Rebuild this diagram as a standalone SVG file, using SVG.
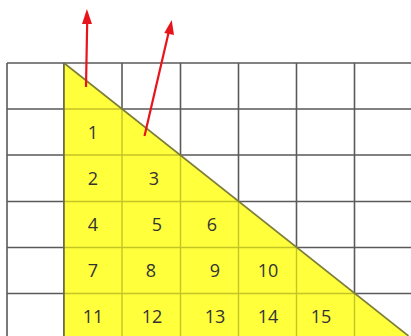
<svg xmlns="http://www.w3.org/2000/svg" width="411" height="336" viewBox="0 0 411 336">
<defs>
<style>
.g{stroke:#5a5a5a;stroke-width:1.6;fill:none}
.y{stroke:#c4c424;stroke-width:1.4;fill:none}
.n{font-family:"Open Sans","Noto Sans",sans-serif;font-size:18px;fill:#333;text-anchor:middle}
.a{stroke:#e8141c;stroke-width:2.2;fill:none}
</style>
<clipPath id="tri"><polygon points="64,63 408.5,336 64,336"/></clipPath>
<marker id="ah" viewBox="0 0 10 14" refX="9" refY="5" markerWidth="14" markerHeight="10" markerUnits="userSpaceOnUse" orient="auto"><path d="M0,0 L14,5 L0,10 Z" fill="#e8141c" transform="scale(0.7143,1)"/></marker>
</defs>
<rect width="411" height="336" fill="#fff"/>
<g id="grid">
<path class="g" d="M7,63V336M64,63V336M122,63V336M180.5,63V336M238.5,63V336M296.5,63V336M354.5,63V336M7,63H411M7,109H411M7,155H411M7,201.5H411M7,247.5H411M7,293.5H411"/>
</g>
<g id="triangle">
<polygon points="64,63 408.5,336 64,336" fill="#ffff3c"/>
<path class="y" clip-path="url(#tri)" d="M122,63V336M180.5,63V336M238.5,63V336M296.5,63V336M354.5,63V336M64,109H411M64,155H411M64,201.5H411M64,247.5H411M64,293.5H411"/>
<line x1="64" y1="63" x2="408.5" y2="336" stroke="#7e7e3a" stroke-width="1.6"/>
<line x1="64" y1="63" x2="64" y2="336" stroke="#6a6a40" stroke-width="1.6"/>
</g>
<g id="labels">
<g id="c1"><text class="n" x="93" y="138.5">1</text></g>
<g id="c2"><text class="n" x="93" y="184.5">2</text></g>
<g id="c3"><text class="n" x="154" y="184.5">3</text></g>
<g id="c4"><text class="n" x="93" y="230.5">4</text></g>
<g id="c5"><text class="n" x="157" y="230.5">5</text></g>
<g id="c6"><text class="n" x="212" y="230.5">6</text></g>
<g id="c7"><text class="n" x="93" y="277">7</text></g>
<g id="c8"><text class="n" x="151" y="277">8</text></g>
<g id="c9"><text class="n" x="215" y="277">9</text></g>
<g id="c10"><text class="n" x="268" y="277">10</text></g>
<g id="c11"><text class="n" x="93" y="323">11</text></g>
<g id="c12"><text class="n" x="152" y="323">12</text></g>
<g id="c13"><text class="n" x="215" y="323">13</text></g>
<g id="c14"><text class="n" x="268" y="323">14</text></g>
<g id="c15"><text class="n" x="321" y="323">15</text></g>
</g>
<g id="connectors">
<path class="a" d="M86,87 L87.2,22"/>
<polygon points="86.9,9 82,24 92,24" fill="#e8141c"/>
<path class="a" d="M144.5,136 L168.5,33"/>
<polygon points="171.7,20 164.3,32.9 174,35.1" fill="#e8141c"/>
</g>
</svg>
